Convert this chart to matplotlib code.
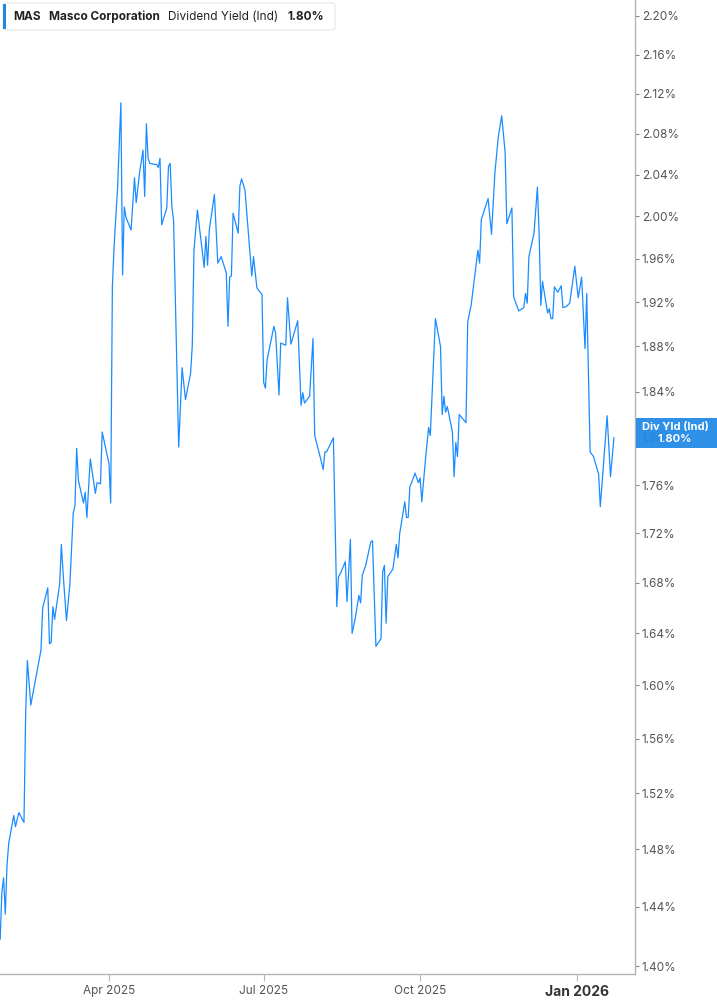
import numpy as np
import pandas as pd
import matplotlib
matplotlib.use("Agg")
import matplotlib.pyplot as plt
import matplotlib.ticker as mticker
from matplotlib.patches import FancyBboxPatch, Rectangle
from matplotlib.transforms import IdentityTransform

# --- data: day offsets from 2025-01-01 and dividend yield (%) ---
days = [26, 27, 28, 29, 30, 31, 34, 35, 37, 40, 41, 42, 44, 47, 50, 51, 54, 55, 56, 57,
        58, 61, 62, 63, 65, 67, 69, 70, 71, 72, 75, 76, 77, 79, 82, 83, 85, 86, 90, 91,
        92, 93, 94, 95, 97, 98, 99, 100, 103, 105, 106, 108, 110, 111, 112, 113, 114, 117, 118, 119,
        120, 121, 124, 125, 126, 127, 128, 131, 133, 135, 138, 139, 140, 142,
        146, 147, 148, 149, 152, 154, 156, 159, 160, 161, 162, 163, 166, 167, 168, 170, 174, 175, 177, 180,
        181, 182, 183, 187, 188, 190, 191, 194, 195, 197, 201, 203, 204, 205, 208, 210, 211, 214, 216, 217, 218,
        222, 224, 225, 226, 229, 230, 232, 233, 235, 237, 238, 239, 241, 244, 245, 247, 250, 251, 252, 253,
        254, 257, 259, 260, 261, 264, 265, 266, 267, 268, 270, 272, 273, 274, 276, 278, 279, 282, 285, 286,
        287, 288, 289, 292, 293, 294, 295, 296, 300, 301, 303, 305, 307, 308, 309, 313, 315, 317, 319, 321,
        323, 324, 327, 328, 331, 334, 335, 336, 337, 340, 342, 343, 344, 345, 348, 349, 350, 351, 352, 354,
        356, 357, 359, 361, 364, 366, 368, 370, 371, 373, 375, 378, 379, 383, 385, 387]

yields = [1.418, 1.450, 1.460, 1.435, 1.468, 1.484, 1.504, 1.496, 1.506, 1.499,
          1.579, 1.619, 1.585, 1.606, 1.627, 1.660, 1.676, 1.632, 1.633, 1.661,
          1.651, 1.679, 1.711, 1.688, 1.650, 1.679, 1.737, 1.743, 1.791, 1.764,
          1.745, 1.754, 1.733, 1.782, 1.753, 1.762, 1.761, 1.805, 1.778, 1.745,
          1.934, 1.971, 1.999, 2.025, 2.111, 1.945, 2.009, 1.999, 1.987, 2.037,
          2.013, 2.042, 2.064, 2.019, 2.090, 2.056, 2.051, 2.050, 2.050, 2.047,
          2.056, 1.992, 2.008, 2.048, 2.051, 2.009, 1.996, 1.792, 1.861, 1.833,
          1.856, 1.881, 1.968, 2.006,
          1.952, 1.981, 1.954, 1.987, 2.021, 1.956, 1.962, 1.947, 1.898, 1.943,
          1.944, 2.003, 1.984, 2.029, 2.036, 2.025, 1.944, 1.962, 1.933, 1.927,
          1.848, 1.843, 1.868, 1.898, 1.892, 1.837, 1.883, 1.881, 1.924, 1.882,
          1.903, 1.828, 1.839, 1.830, 1.836, 1.887, 1.802, 1.785, 1.773, 1.788, 1.788,
          1.800, 1.661, 1.685, 1.687, 1.697, 1.665, 1.715, 1.640, 1.653, 1.670,
          1.664, 1.686, 1.694, 1.713, 1.714, 1.630, 1.636, 1.689, 1.694, 1.648,
          1.685, 1.691, 1.711, 1.700, 1.720, 1.746, 1.733, 1.733, 1.759, 1.762,
          1.770, 1.762, 1.766, 1.746, 1.779, 1.809, 1.802, 1.905, 1.880, 1.820,
          1.836, 1.822, 1.827, 1.805, 1.767, 1.796, 1.784, 1.820, 1.813, 1.902,
          1.917, 1.942, 1.968, 1.956, 1.997, 2.017, 1.983, 2.042, 2.077, 2.098,
          2.062, 1.993, 2.008, 1.925, 1.912, 1.915, 1.928, 1.919, 1.962, 1.984,
          2.028, 1.984, 1.917, 1.939, 1.910, 1.914, 1.905, 1.905, 1.934, 1.929,
          1.935, 1.915, 1.916, 1.919, 1.953, 1.924, 1.943, 1.878, 1.928, 1.788,
          1.784, 1.769, 1.742, 1.819, 1.767, 1.800]

y_ticks = [1.40, 1.44, 1.48, 1.52, 1.56, 1.60, 1.64, 1.68, 1.72, 1.76, 1.80,
           1.84, 1.88, 1.92, 1.96, 2.00, 2.04, 2.08, 2.12, 2.16, 2.20]
x_tick_dates = ["2025-04-01", "2025-07-01", "2025-10-01", "2026-01-01"]
x_tick_labels = ["Apr 2025", "Jul 2025", "Oct 2025", "Jan 2026"]

ticker_name = "MAS"
company = "Masco Corporation"
metric = "Dividend Yield (Ind)"
last_value = yields[-1]

base = pd.Timestamp("2025-01-01")
dates = base + pd.to_timedelta(days, unit="D")

# --- figure ---
plt.rcParams["font.family"] = ["Inter", "DejaVu Sans"]
W, H = 717, 1005
fig = plt.figure(figsize=(W / 100, H / 100), dpi=100)
ax = fig.add_axes([0, 31 / H, 635 / W, 974 / H])

line_color = "#1a8cff"
ax.plot(dates, yields, color=line_color, lw=0.9)

ax.set_yscale("log")
ax.set_ylim(1.3947, 2.2168)
ax.set_xlim(base + pd.Timedelta(days=25.9), base + pd.Timedelta(days=399.4))

ax.yaxis.tick_right()
ax.set_yticks(y_ticks)
ax.set_yticklabels([f"{v:.2f}%" for v in y_ticks])
ax.yaxis.set_minor_locator(mticker.NullLocator())
ax.yaxis.set_minor_formatter(mticker.NullFormatter())

ax.set_xticks(pd.to_datetime(x_tick_dates))
ax.set_xticklabels(x_tick_labels)

for s in ["top", "left"]:
    ax.spines[s].set_visible(False)
for s in ["right", "bottom"]:
    ax.spines[s].set_color("#b5b5b5")
    ax.spines[s].set_linewidth(1.0)

ax.tick_params(axis="y", length=3, width=0.8, color="#888888", labelsize=8.5,
               labelcolor="#555555", pad=2)
ax.tick_params(axis="x", length=5, width=0.8, color="#b5b5b5", labelsize=8.5,
               labelcolor="#555555", pad=3)
jan = ax.get_xticklabels()[-1]
jan.set_fontweight("bold")
jan.set_fontsize(10)
jan.set_color("#333333")

# --- header box ---
ident = IdentityTransform()
def py(y):
    return H - y

fig.patches.append(FancyBboxPatch((3, py(30)), 332, 27, boxstyle="round,pad=0,rounding_size=3",
                                  facecolor="white", edgecolor="#e6e6e6", lw=0.8,
                                  transform=ident, figure=fig))
fig.patches.append(Rectangle((3, py(29)), 3, 25, facecolor="#1e88e5", edgecolor="none",
                             transform=ident, figure=fig))
hy = py(17)
fig.text(13, hy, ticker_name, transform=ident, fontsize=8.5, fontweight="bold",
         color="#222222", va="center")
fig.text(49, hy, company, transform=ident, fontsize=8.5, fontweight="bold",
         color="#222222", va="center")
fig.text(168, hy, metric, transform=ident, fontsize=8.5, color="#222222", va="center")
fig.text(287, hy, f"{last_value:.2f}%", transform=ident, fontsize=8.5, fontweight="bold",
         color="#222222", va="center")

# --- last value tag on the axis ---
fig.patches.append(Rectangle((636, py(448)), 81, 30, facecolor="#1e88e5", edgecolor="none",
                             alpha=0.93, transform=ident, figure=fig))
fig.text(675, py(427), "Div Yld (Ind)", transform=ident, fontsize=8, fontweight="bold",
         color="white", ha="center", va="center")
fig.text(675, py(439), f"{last_value:.2f}%", transform=ident, fontsize=8, fontweight="bold",
         color="white", ha="center", va="center")

fig.savefig("out.png", dpi=100)
